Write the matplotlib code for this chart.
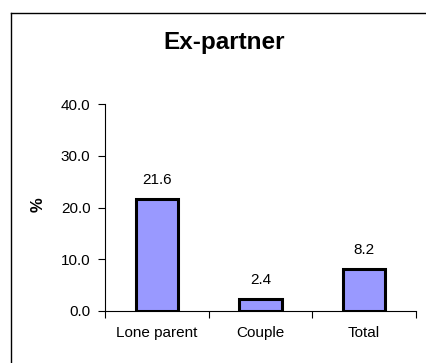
import matplotlib.pyplot as plt
from matplotlib.lines import Line2D

plt.rcParams['font.family'] = ['Liberation Sans', 'DejaVu Sans']

categories = ['Lone parent', 'Couple', 'Total']
values = [21.6, 2.4, 8.2]
yticks = [0.0, 10.0, 20.0, 30.0, 40.0]

fig = plt.figure(figsize=(4.27, 3.63), dpi=100)
ax = fig.add_axes([105 / 427, 1 - 311 / 363, 311 / 427, 207 / 363])

# outer chart frame (left and top edges only, the rest runs off the canvas)
fx, fy = 11.5 / 427, 1 - 12.5 / 363
fig.add_artist(Line2D([fx, fx], [0, fy], transform=fig.transFigure,
                      color='black', linewidth=1.0))
fig.add_artist(Line2D([fx, 1], [fy, fy], transform=fig.transFigure,
                      color='black', linewidth=1.0))

x = range(len(categories))
bars = ax.bar(x, values, width=0.41, color='#9999FF', edgecolor='black',
              linewidth=2.2)
for xi, v in zip(x, values):
    ax.annotate(f'{v:.1f}', (xi, v), xytext=(0, 8.5), textcoords='offset points',
                ha='center', va='bottom', fontsize=11)

ax.set_xlim(-0.5, len(categories) - 0.5)
ax.set_ylim(0, 40)
ax.set_yticks(yticks)
ax.set_yticklabels([f'{t:.1f}' for t in yticks], fontsize=11)
ax.set_xticks([i - 0.5 for i in range(len(categories) + 1)], minor=False)
ax.set_xticklabels([])
ax.set_xticks(list(x), minor=True)
ax.set_xticklabels(categories, minor=True, fontsize=11)
ax.tick_params(axis='x', which='minor', length=0, pad=11)
ax.tick_params(axis='x', which='major', direction='out', length=5)
ax.tick_params(axis='y', direction='out', length=5, pad=5.5)
ax.spines['top'].set_visible(False)
ax.spines['right'].set_visible(False)
ax.set_ylabel('%', fontsize=12, fontweight='bold')
ax.yaxis.set_label_coords(-0.19, 0.512)

fig.text(224 / 427, 1 - 43 / 363, 'Ex-partner', ha='center', va='center',
         fontsize=17.5, fontweight='bold')

fig.savefig('out.png', dpi=100)
